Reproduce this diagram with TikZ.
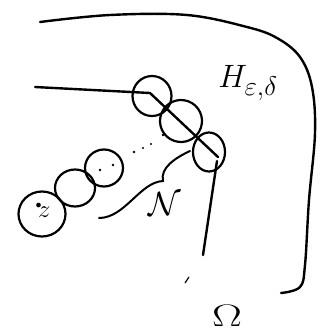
\documentclass[tikz,border=0pt]{standalone}
\usetikzlibrary{shapes.geometric}
\begin{document}
\begin{tikzpicture}[x=1pt,y=-1pt,
  ink/.style={line width=2.4pt,line cap=round,line join=round},
  ball/.style={ellipse,draw,line width=2.2pt,inner sep=0pt},
  lbl/.style={inner sep=0pt}]
\useasboundingbox (0,0) rectangle (324,333);
% outer boundary Omega
\draw[ink] plot[smooth,tension=0.6] coordinates {(40,22) (110,15) (187,15) (247,27) (277,38) (300,57) (312,87) (315,133) (309,200) (305,265) (300,287) (281,293)};
% balls on the boundary
\node[ball,minimum width=39pt,minimum height=40pt] (b1) at (152,96) {};
\node[ball,minimum width=42pt,minimum height=42pt,rotate=-20] (b2) at (181,121) {};
\node[ball,minimum width=32pt,minimum height=39pt] (b3) at (209,152) {};
% chain of balls
\node[ball,minimum width=47pt,minimum height=45pt] (c1) at (42,214) {};
\node[ball,minimum width=40pt,minimum height=37pt] (c2) at (75,188) {};
\node[ball,minimum width=38pt,minimum height=37pt] (c3) at (104,168) {};
% boundary of H
\coordinate (h0) at (35,87);
\coordinate (h1) at (150,93);
\coordinate (h2) at (218,157);
\coordinate (v0) at (217,161);
\coordinate (v1) at (203,255);
\draw[ink] (h0) -- (h1) -- (h2);
\draw[ink] (v0) -- (v1);
% dots
\fill (100,170) circle (1.3pt);
\fill (113,165) circle (1.3pt);
\fill (134,152) circle (1.3pt);
\fill (143,148) circle (1.1pt);
\fill (151,144) circle (1.1pt);
\fill (163,135) circle (1.3pt);
\fill (181,122) circle (0.9pt);
% brace-like curve
\coordinate (n0) at (99,218);
\coordinate (n1) at (190,151);
\draw[line width=2pt,line cap=round] (n0) .. controls (125,218) and (140,182) .. (163,181) .. controls (160,168) and (175,158) .. (n1);
% stray mark
\coordinate (s0) at (185,283);
\coordinate (s1) at (189,277);
\draw[line width=1.2pt] (s0) -- (s1);
% labels
\node[lbl] (H) at (248,83) {\scalebox{1.3}{\fontsize{24.88}{25}\selectfont $H_{\varepsilon,\delta}$}};
\node[lbl] (N) at (165,204) {\scalebox{1.35}{\fontsize{24.88}{25}\selectfont $\mathcal{N}$}};
\node[lbl] (z) at (43,210) {\scalebox{1.2}{\fontsize{20}{20}\selectfont ${}^{\scriptscriptstyle\bullet}\!z$}};
\node[lbl] (O) at (227,316) {\scalebox{1.8}[1.25]{\fontsize{24.88}{25}\selectfont $\Omega$}};
\end{tikzpicture}
\end{document}
